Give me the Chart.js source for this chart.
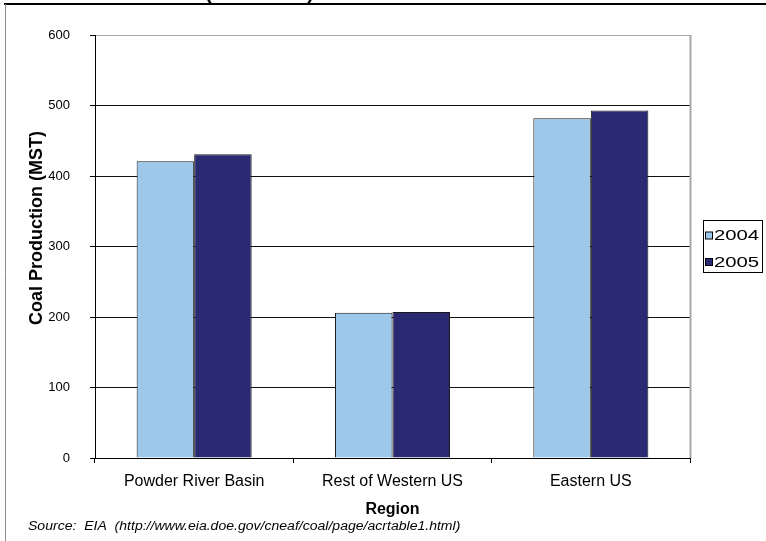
<!DOCTYPE html>
<html lang="en">
<head>
<meta charset="UTF-8" />
<title>Coal Production by Region (2004-2005)</title>
<script src="https://cdn.jsdelivr.net/npm/chart.js"></script>
<style>
  html, body { margin: 0; padding: 0; background: #fff; }
  canvas { display: block; }
</style>
</head>
<body>
<canvas id="coalChart" width="766" height="541"></canvas>
<script>
  // Coal production by region, million short tons
  const regions = ["Powder River Basin", "Rest of Western US", "Eastern US"];
  const years = ["2004", "2005"];
  const prod2004 = [421, 206, 482];
  const prod2005 = [431, 207, 493];
  const yMin = 0, yMax = 600, yStep = 100;
  const titleTail = "(2004-2005)";
  const yAxisTitle = "Coal Production (MST)";
  const sourceNote = "Source:  EIA  (http://www.eia.doe.gov/cneaf/coal/page/acrtable1.html)";

  const FONT = "'Liberation Sans', Arial, sans-serif";
  const colors = ["#9ec8ea", "#292a72"];

  // page frame, clipped title, axis title, source line and the boxed legend
  const decorations = {
    id: "decorations",
    afterDraw(chart) {
      const ctx = chart.ctx;
      const area = chart.chartArea;
      ctx.save();

      // title sits mostly above the visible page
      ctx.fillStyle = "#000";
      ctx.font = "bold 20px " + FONT;
      ctx.textAlign = "left";
      ctx.textBaseline = "alphabetic";
      ctx.fillText(titleTail, 205, -1);

      // outer frame
      ctx.strokeStyle = "#000";
      ctx.lineWidth = 2;
      ctx.beginPath();
      ctx.moveTo(4, 4);
      ctx.lineTo(766, 4);
      ctx.stroke();
      ctx.strokeStyle = "#8c8c8c";
      ctx.lineWidth = 1;
      ctx.beginPath();
      ctx.moveTo(5.5, 4);
      ctx.lineTo(5.5, 541);
      ctx.stroke();

      // right side of the plot frame
      ctx.strokeStyle = "#a8a8a8";
      ctx.lineWidth = 2;
      ctx.beginPath();
      ctx.moveTo(area.right + 0.5, area.top);
      ctx.lineTo(area.right + 0.5, area.bottom);
      ctx.stroke();

      // value axis title, a little above the middle of the axis
      ctx.save();
      ctx.translate(37.5, 228);
      ctx.rotate(-Math.PI / 2);
      ctx.fillStyle = "#000";
      ctx.font = "bold 18px " + FONT;
      ctx.textAlign = "center";
      ctx.textBaseline = "middle";
      ctx.fillText(yAxisTitle, 0, 0);
      ctx.restore();

      // source note
      ctx.save();
      ctx.translate(28, 527);
      ctx.scale(1.17, 1);
      ctx.fillStyle = "#000";
      ctx.font = "italic 12px " + FONT;
      ctx.textAlign = "left";
      ctx.textBaseline = "middle";
      ctx.fillText(sourceNote, 0, 0);
      ctx.restore();

      // legend
      ctx.strokeStyle = "#000";
      ctx.lineWidth = 1;
      ctx.strokeRect(703.5, 220.5, 59, 52);
      const rows = [235.5, 262];
      chart.data.datasets.forEach((ds, i) => {
        const cy = rows[i];
        ctx.fillStyle = ds.backgroundColor;
        ctx.fillRect(705.5, cy - 3.5, 7, 7);
        ctx.strokeStyle = "#000";
        ctx.strokeRect(705.5, cy - 3.5, 7, 7);
        ctx.save();
        ctx.translate(714, cy);
        ctx.scale(1.45, 1);
        ctx.fillStyle = "#000";
        ctx.font = "14px " + FONT;
        ctx.textAlign = "left";
        ctx.textBaseline = "middle";
        ctx.fillText(ds.label, 0, 1);
        ctx.restore();
      });

      ctx.restore();
    }
  };

  new Chart(document.getElementById("coalChart"), {
    type: "bar",
    data: {
      labels: regions,
      datasets: [
        {
          label: years[0],
          data: prod2004,
          backgroundColor: colors[0],
          borderColor: "#1a1a1a",
          borderWidth: 1,
          categoryPercentage: 0.58,
          barPercentage: 1.0
        },
        {
          label: years[1],
          data: prod2005,
          backgroundColor: colors[1],
          borderColor: "#1a1a1a",
          borderWidth: 1,
          categoryPercentage: 0.58,
          barPercentage: 1.0
        }
      ]
    },
    options: {
      responsive: false,
      devicePixelRatio: 1,
      animation: false,
      layout: { padding: { left: 5, right: 76, top: 35, bottom: 8 } },
      plugins: {
        legend: { display: false },
        tooltip: { enabled: false },
        title: { display: false }
      },
      scales: {
        x: {
          grid: { offset: true, drawOnChartArea: false, color: "#000", tickLength: 5 },
          border: { color: "#000", width: 1 },
          ticks: { color: "#000", font: { family: FONT, size: 16 }, padding: 9, maxRotation: 0 },
          title: {
            display: true,
            text: "Region",
            color: "#000",
            font: { family: FONT, size: 16, weight: "bold" },
            padding: { top: 0, bottom: 14 }
          },
          afterFit(scale) { scale.height = 75; }
        },
        y: {
          min: yMin,
          max: yMax,
          grid: {
            color: ctx => (ctx.tick && ctx.tick.value === yMax ? "#a8a8a8" : "#111"),
            tickColor: "#000",
            tickLength: 5,
            lineWidth: 1
          },
          border: { color: "#000", width: 1 },
          ticks: { stepSize: yStep, color: "#000", font: { family: FONT, size: 13 }, padding: 20 },
          afterFit(scale) { scale.width = 90; }
        }
      }
    },
    plugins: [decorations]
  });
</script>
</body>
</html>
